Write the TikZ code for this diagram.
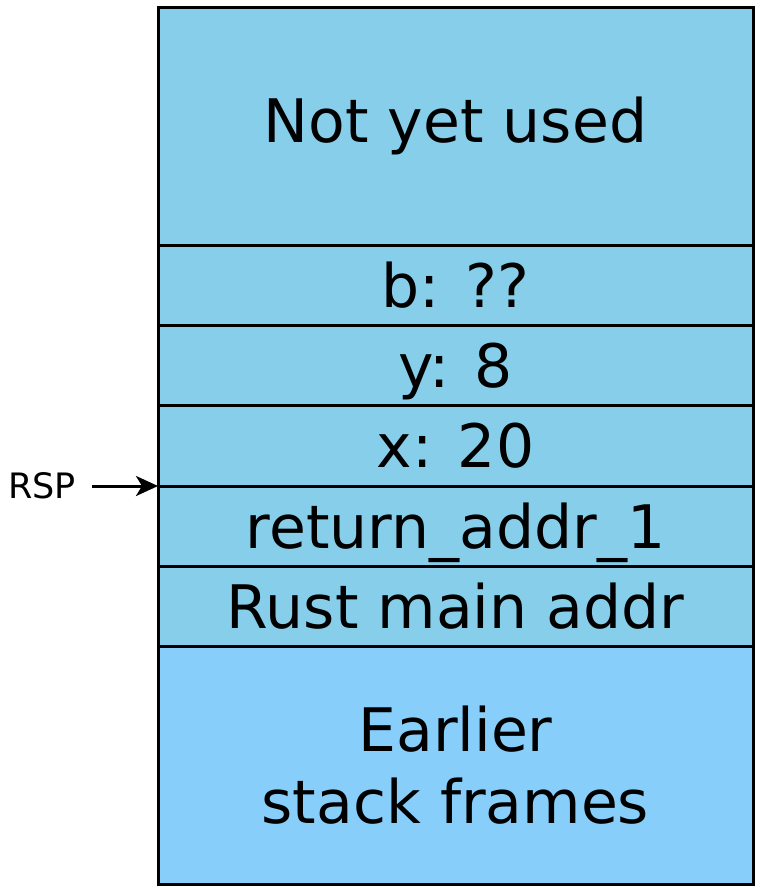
\documentclass[tikz,border=0pt]{standalone}
\usepackage{fontspec}
\setmainfont{DejaVu Sans}
\usetikzlibrary{positioning, arrows.meta}
\definecolor{usedblue}{HTML}{87CEEB}
\definecolor{oldblue}{HTML}{87CEFA}

\begin{document}
\begin{tikzpicture}[x=1pt,y=-1pt,
	frame/.style={draw, line width=3pt, fill=usedblue, minimum width=595pt, inner sep=0pt, outer sep=0pt, align=center, font=\fontsize{60}{72}\selectfont},
	slot/.style={frame, minimum height=80pt, text height=44pt, text depth=0pt},
	bigframe/.style={frame, minimum height=238pt}]
	\useasboundingbox (0,0) rectangle (762,892);
	\node(unused) [bigframe, anchor=north west] at (158,7) {Not yet used};
	\node(b) [slot, below=0pt of unused] {b: ??};
	\node(y) [slot, below=0pt of b] {y: 8};
	\node(x) [slot, minimum height=81pt, below=0pt of y] {x: 20};
	\node(ret) [slot, below=0pt of x] {return\_addr\_1};
	\node(main) [slot, below=0pt of ret] {Rust main addr};
	\node(earlier) [bigframe, fill=oldblue, below=0pt of main] {Earlier\\stack frames};
	
	\node(rsp) [font=\fontsize{35}{42}\selectfont, anchor=east, inner sep=0pt] at (76,486) {RSP};
	\coordinate(rsptail) at (92,486);
	\draw[-{Stealth[length=22pt,width=20pt,inset=6pt]}, line width=3pt] (rsptail) -- (ret.north west);
\end{tikzpicture}
\end{document}
